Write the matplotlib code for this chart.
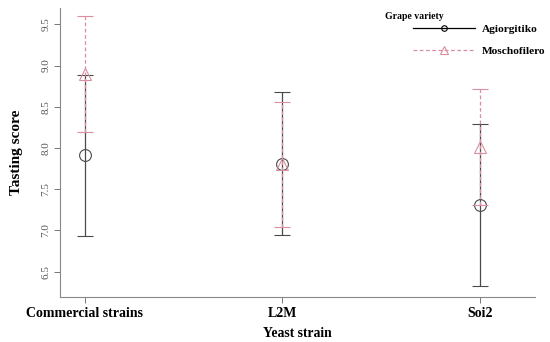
import numpy as np
import matplotlib.pyplot as plt
from matplotlib.lines import Line2D

# data
strains = ["Commercial strains", "L2M", "Soi2"]
agio_mean = [7.91, 7.81, 7.31]
agio_err = [0.98, 0.87, 0.98]
mosch_mean = [8.90, 7.80, 8.01]
mosch_err = [0.70, 0.76, 0.70]
yticks = [6.5, 7.0, 7.5, 8.0, 8.5, 9.0, 9.5]

plt.rcParams["font.family"] = ["Liberation Serif", "DejaVu Serif"]

agio_col = "#4a4a4a"
mosch_col = "#d98fa0"

fig = plt.figure(figsize=(5.5, 3.42), dpi=100)
ax = fig.add_axes([0.109, 0.131, 0.864, 0.846])

x = np.arange(1, len(strains) + 1)

ax.errorbar(x, agio_mean, yerr=agio_err, fmt="o", color=agio_col, mfc="none",
            ms=8.5, mew=0.8, elinewidth=0.9, capsize=6, capthick=0.9, zorder=3)
eb = ax.errorbar(x, mosch_mean, yerr=mosch_err, fmt="^", color=mosch_col, mfc="none",
                 ms=9, mew=0.8, elinewidth=0.9, capsize=6, capthick=0.9, zorder=4)
# dashed whiskers for Moschofilero
for b in eb[2]:
    b.set_linestyle((0, (3, 2)))

ax.set_xlim(0.875, 3.28)
ax.set_ylim(6.19, 9.70)
ax.set_xticks(x)
ax.set_xticklabels(strains, fontsize=10, fontweight="bold")
ax.set_yticks(yticks)
ax.set_yticklabels([f"{v:.1f}" for v in yticks], rotation=90, va="center",
                   fontsize=8, color="#555555")
ax.tick_params(axis="both", length=4, width=0.7, color="#777777")
ax.tick_params(axis="x", pad=3)
ax.tick_params(axis="y", pad=3)

for s in ["top", "right"]:
    ax.spines[s].set_visible(False)
for s in ["left", "bottom"]:
    ax.spines[s].set_color("#888888")
    ax.spines[s].set_linewidth(0.8)

ax.set_xlabel("Yeast strain", fontsize=9.8, fontweight="bold", labelpad=5)
ax.set_ylabel("Tasting score", fontsize=11, fontweight="bold", labelpad=13)

handles = [
    Line2D([], [], color="black", lw=0.9, marker="o", ms=4, mfc="none", mew=0.8),
    Line2D([], [], color=mosch_col, lw=0.9, ls=(0, (3, 2)), marker="^", ms=6,
           mfc="none", mew=0.8),
]
fig.legend(handles, ["Agiorgitiko", "Moschofilero"], loc="upper left",
           bbox_to_anchor=(0.733, 0.96), frameon=False, handlelength=5.4,
           handletextpad=0.6, labelspacing=1.1, prop={"weight": "bold", "size": 8.2})
fig.text(0.70, 0.952, "Grape variety", fontsize=7, fontweight="bold", va="center")

fig.savefig("out.png", dpi=100)
